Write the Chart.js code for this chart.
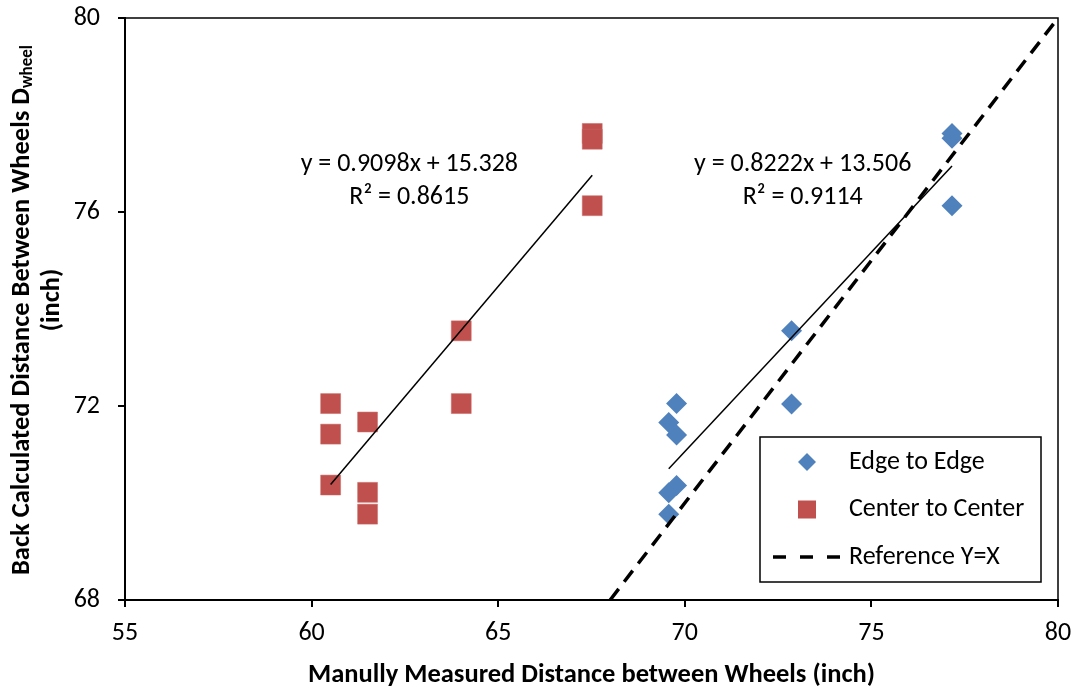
<!DOCTYPE html>
<html>
<head>
<meta charset="utf-8">
<title>Wheel distance comparison</title>
<script src="https://cdn.jsdelivr.net/npm/chart.js@4.4.1/dist/chart.umd.min.js"></script>
<style>
  html, body { margin: 0; padding: 0; background: #fff; }
  #wrap { width: 1076px; height: 691px; }
</style>
</head>
<body>
<div id="wrap"><canvas id="chart" width="1076" height="691"></canvas></div>
<script>
/* measured (x) vs back-calculated (y) wheel spacing, inches */
const edgeX = [77.16, 77.16, 77.16, 72.86, 72.86, 69.78, 69.78, 69.78, 69.57, 69.57, 69.57];
const edgeY = [77.62, 77.52, 76.13, 73.55, 72.04, 72.05, 71.40, 70.36, 71.66, 70.21, 69.77];
const centerX = [67.52, 67.52, 67.52, 64.01, 64.01, 60.51, 60.51, 60.51, 61.50, 61.50, 61.50];
const centerY = [77.62, 77.50, 76.13, 73.55, 72.05, 72.05, 71.42, 70.37, 71.67, 70.22, 69.77];

// linear trend fits as printed on the chart
const edgeFit = { slope: 0.8222, intercept: 13.506, r2: 0.9114 };
const centerFit = { slope: 0.9098, intercept: 15.328, r2: 0.8615 };

const refLine = [68, 80];
const xTicks = [55, 60, 65, 70, 75, 80];
const yTicks = [68, 72, 76, 80];
const legendOrder = ["Edge to Edge", "Center to Center", "Reference Y=X"];

const FONT = "Carlito, Calibri, Lato, sans-serif";
const BLUE = "#4f81bd";
const RED = "#c0504d";

function points(xs, ys) {
  return xs.map((x, i) => ({ x: x, y: ys[i] }));
}

function trend(fit, xs) {
  const lo = Math.min(...xs), hi = Math.max(...xs);
  return [lo, hi].map((x) => ({ x: x, y: fit.slope * x + fit.intercept }));
}

function eqText(fit) {
  return "y = " + fit.slope.toFixed(4) + "x + " + fit.intercept.toFixed(3);
}

/* -----------------------------------------------------------------
   extra drawing: plot frame, equations, axis titles, legend box
   ----------------------------------------------------------------- */
const decorations = {
  id: "decorations",
  afterDatasetsDraw(chart) {
    const { ctx, chartArea: a, scales } = chart;
    const xs = scales.x, ys = scales.y;
    ctx.save();

    // thin frame on top and right
    ctx.strokeStyle = "#000";
    ctx.lineWidth = 1.5;
    ctx.beginPath();
    ctx.moveTo(a.left, a.top);
    ctx.lineTo(a.right, a.top);
    ctx.lineTo(a.right, a.bottom);
    ctx.stroke();

    // trend equations
    ctx.fillStyle = "#000";
    ctx.font = "26px " + FONT;
    ctx.textAlign = "center";
    ctx.textBaseline = "middle";
    const labels = [
      { fit: centerFit, x: 62.62 },
      { fit: edgeFit, x: 73.16 },
    ];
    labels.forEach((l) => {
      const px = xs.getPixelForValue(l.x);
      const py = ys.getPixelForValue(76.97);
      ctx.fillText(eqText(l.fit), px, py);
      ctx.fillText("R\u00b2 = " + l.fit.r2.toFixed(4), px, py + 33);
    });

    // axis titles
    ctx.font = "bold 26.5px " + FONT;
    ctx.fillText("Manully Measured Distance between Wheels (inch)", (a.left + a.right) / 2, 675);

    ctx.save();
    ctx.translate(22, 310);
    ctx.rotate(-Math.PI / 2);
    const main = "Back Calculated Distance Between Wheels D";
    ctx.font = "bold 26.5px " + FONT;
    const wMain = ctx.measureText(main).width;
    ctx.font = "bold 17px " + FONT;
    const wSub = ctx.measureText("wheel").width;
    const start = -(wMain + wSub) / 2;
    ctx.textAlign = "left";
    ctx.font = "bold 26.5px " + FONT;
    ctx.fillText(main, start, 0);
    ctx.font = "bold 17px " + FONT;
    ctx.fillText("wheel", start + wMain, 6);
    ctx.restore();

    ctx.save();
    ctx.translate(52, 300);
    ctx.rotate(-Math.PI / 2);
    ctx.font = "bold 26.5px " + FONT;
    ctx.fillText("(inch)", 0, 0);
    ctx.restore();

    // legend
    const box = { left: 760, top: 437, right: 1041, bottom: 582 };
    ctx.fillStyle = "#fff";
    ctx.fillRect(box.left, box.top, box.right - box.left, box.bottom - box.top);
    ctx.strokeStyle = "#000";
    ctx.lineWidth = 1.5;
    ctx.strokeRect(box.left, box.top, box.right - box.left, box.bottom - box.top);

    const rows = legendOrder.map((name) => chart.data.datasets.find((d) => d.label === name));
    rows.forEach((d, i) => {
      const cy = 462 + i * 47.5;
      if (d.showLine) {
        ctx.strokeStyle = d.borderColor;
        ctx.lineWidth = d.borderWidth;
        ctx.setLineDash([13, 14]);
        ctx.beginPath();
        ctx.moveTo(773, cy);
        ctx.lineTo(840, cy);
        ctx.stroke();
        ctx.setLineDash([]);
      } else if (d.pointStyle === "rectRot") {
        ctx.fillStyle = d.backgroundColor;
        ctx.beginPath();
        ctx.moveTo(807, cy - 9);
        ctx.lineTo(816, cy);
        ctx.lineTo(807, cy + 9);
        ctx.lineTo(798, cy);
        ctx.closePath();
        ctx.fill();
      } else {
        ctx.fillStyle = d.backgroundColor;
        ctx.fillRect(798, cy - 9, 18, 18);
      }
      ctx.fillStyle = "#000";
      ctx.font = "26px " + FONT;
      ctx.textAlign = "left";
      ctx.fillText(d.label, 849, cy);
    });

    ctx.restore();
  },
};

const axisStyle = {
  border: { display: true, color: "#000", width: 2 },
  grid: { display: true, drawOnChartArea: false, drawTicks: true, tickLength: 7, color: "#000", lineWidth: 2 },
};

// fixed axis boxes so the plot area lands at 125..1058 x 18..600
function fixPadding(s) {
  s.paddingTop = 0;
  s.paddingBottom = 0;
  s.paddingLeft = 0;
  s.paddingRight = 0;
}

new Chart(document.getElementById("chart"), {
  type: "scatter",
  data: {
    datasets: [
      {
        label: "Reference Y=X",
        data: refLine.map((v) => ({ x: v, y: v })),
        showLine: true,
        borderColor: "#000",
        borderWidth: 3.5,
        borderDash: [14, 9],
        pointRadius: 0,
        order: 1,
      },
      {
        label: "center trend",
        data: trend(centerFit, centerX),
        showLine: true,
        borderColor: "#000",
        borderWidth: 1.5,
        pointRadius: 0,
        order: 1,
      },
      {
        label: "edge trend",
        data: trend(edgeFit, edgeX),
        showLine: true,
        borderColor: "#000",
        borderWidth: 1.5,
        pointRadius: 0,
        order: 1,
      },
      {
        label: "Edge to Edge",
        data: points(edgeX, edgeY),
        pointStyle: "rectRot",
        pointRadius: 10.5,
        backgroundColor: BLUE,
        borderColor: BLUE,
        borderWidth: 0,
        order: 2,
      },
      {
        label: "Center to Center",
        data: points(centerX, centerY),
        pointStyle: "rect",
        pointRadius: 14.1,
        backgroundColor: RED,
        borderColor: "#c96a67",
        borderWidth: 0.5,
        order: 2,
      },
    ],
  },
  options: {
    responsive: false,
    animation: false,
    layout: { padding: { top: 18, right: 18, left: 0, bottom: 0 } },
    plugins: { legend: { display: false }, tooltip: { enabled: false } },
    scales: {
      x: {
        ...axisStyle,
        min: 55,
        max: 80,
        afterBuildTicks: (s) => { s.ticks = xTicks.map((v) => ({ value: v })); },
        afterFit: (s) => { s.height = 91; fixPadding(s); },
        ticks: { color: "#000", font: { family: FONT, size: 26 }, padding: 11, maxRotation: 0 },
      },
      y: {
        ...axisStyle,
        min: 68,
        max: 80,
        afterBuildTicks: (s) => { s.ticks = yTicks.map((v) => ({ value: v })); },
        afterFit: (s) => { s.width = 125; fixPadding(s); },
        ticks: { color: "#000", font: { family: FONT, size: 26 }, padding: 18 },
      },
    },
  },
  plugins: [decorations],
});
</script>
</body>
</html>
